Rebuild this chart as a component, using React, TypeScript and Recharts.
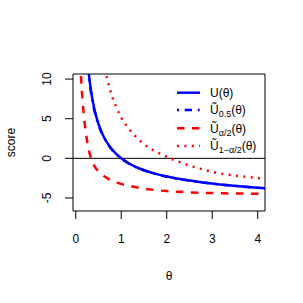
import {
  Legend,
  Line,
  LineChart,
  ReferenceArea,
  ReferenceLine,
  XAxis,
  YAxis,
} from "recharts";

const theta = [0.1, 0.12, 0.15, 0.2, 0.25, 0.3, 0.35, 0.4, 0.45, 0.5, 0.6, 0.7, 0.8, 0.9, 1.0, 1.2, 1.4, 1.6, 1.8, 2.0, 2.25, 2.5, 2.75, 3.0, 3.25, 3.5, 3.75, 4.0, 4.2];

const uScore = [null, null, null, null, 12.9, 10.05, 8.02, 6.49, 5.3, 4.35, 2.91, 1.88, 1.11, 0.5, 0.01, -0.74, -1.28, -1.69, -2.02, -2.29, -2.57, -2.8, -3.0, -3.17, -3.33, -3.46, -3.59, -3.7, -3.79];
const uMedian = [null, null, null, null, 12.6, 9.8, 7.8, 6.3, 5.15, 4.22, 2.82, 1.82, 1.07, 0.47, -0.02, -0.76, -1.3, -1.71, -2.04, -2.31, -2.59, -2.82, -3.02, -3.19, -3.35, -3.48, -3.61, -3.72, -3.81];
const uLower = [12.3, 9.9, 7.3, 4.3, 2.2, 0.75, -0.2, -0.85, -1.3, -1.65, -2.15, -2.52, -2.8, -3.02, -3.22, -3.5, -3.73, -3.9, -4.03, -4.13, -4.22, -4.29, -4.34, -4.38, -4.41, -4.43, -4.45, -4.47, -4.48];
const uUpper = [null, null, null, null, null, null, null, null, null, 15.9, 12.4, 9.8, 7.8, 6.35, 5.15, 3.5, 2.3, 1.38, 0.74, 0.2, -0.4, -0.9, -1.33, -1.7, -1.98, -2.18, -2.34, -2.47, -2.56];

const xTicks = [0, 1, 2, 3, 4];
const yTicks = [-5, 0, 5, 10];
const xDomain = [-0.06, 4.16];
const yDomain = [-6.64, 10.64];

const data = theta.map((t, i) => ({
  theta: t,
  u: uScore[i],
  u05: uMedian[i],
  lo: uLower[i],
  hi: uUpper[i],
}));

const FONT = "'Liberation Sans', Arial, Helvetica, sans-serif";

// legend rows: dash pattern + label pieces (base, subscript)
const series = [
  { key: "u", color: "#0000ff", dash: undefined, sub: null, tilde: false },
  { key: "u05", color: "#0000ff", dash: "2 5.7 7.3 5.7", sub: "0.5", tilde: true },
  { key: "lo", color: "#ff0000", dash: "7.5 7.5", sub: "α/2", tilde: true },
  { key: "hi", color: "#ff0000", dash: "2 5.4", sub: "1−α/2", tilde: true },
];

function XTick(props: any) {
  const { x, y, payload } = props;
  return (
    <text x={x} y={y + 22} textAnchor="middle" fontFamily={FONT} fontSize={12} fill="#000">
      {payload.value}
    </text>
  );
}

function YTick(props: any) {
  const { x, y, payload } = props;
  const bx = x - 12;
  return (
    <text
      x={bx}
      y={y}
      textAnchor="middle"
      transform={`rotate(-90, ${bx}, ${y})`}
      fontFamily={FONT}
      fontSize={12}
      fill="#000"
    >
      {payload.value}
    </text>
  );
}

function renderLegend() {
  const rows = [12.7, 30, 48.3, 66];
  return (
    <svg width={125} height={80} style={{ overflow: "visible" }}>
      {series.map((s, i) => (
        <g key={s.key}>
          <line
            x1={12}
            x2={35}
            y1={rows[i]}
            y2={rows[i]}
            stroke={s.color}
            strokeWidth={2.5}
            strokeDasharray={s.dash}
          />
          <text x={45} y={rows[i] + 4.3} fontFamily={FONT} fontSize={12} fill="#000">
            {s.tilde ? "Ũ" : "U"}
            {s.sub ? (
              <>
                <tspan fontSize={9} dy={3}>
                  {s.sub}
                </tspan>
                <tspan dy={-3}>(θ)</tspan>
              </>
            ) : (
              "(θ)"
            )}
          </text>
        </g>
      ))}
    </svg>
  );
}

export default function App() {
  return (
    <div style={{ position: "absolute", left: 0, top: 0, width: 303, height: 303, background: "#fff" }}>
      <LineChart width={303} height={303} data={data} margin={{ top: 74, right: 38, bottom: 62, left: 43 }}>
        <XAxis
          dataKey="theta"
          type="number"
          domain={xDomain}
          ticks={xTicks}
          interval={0}
          allowDataOverflow
          axisLine={false}
          tickLine={{ stroke: "#000" }}
          tickSize={8}
          height={30}
          tick={XTick}
          label={{
            content: (p: any) => {
              const vb = p.viewBox || { x: 73, y: 211, width: 192 };
              return (
                <text
                  x={vb.x + vb.width / 2}
                  y={vb.y + 68.5}
                  textAnchor="middle"
                  fontFamily={FONT}
                  fontSize={12}
                  fill="#000"
                >
                  θ
                </text>
              );
            },
          }}
        />
        <YAxis
          type="number"
          domain={yDomain}
          ticks={yTicks}
          interval={0}
          allowDataOverflow
          axisLine={false}
          tickLine={{ stroke: "#000" }}
          tickSize={8}
          width={30}
          tick={YTick}
          label={{
            content: (p: any) => {
              const vb = p.viewBox || { x: 43, y: 74, height: 137 };
              const cx = 15;
              const cy = vb.y + vb.height / 2;
              return (
                <text
                  x={cx}
                  y={cy}
                  textAnchor="middle"
                  transform={`rotate(-90, ${cx}, ${cy})`}
                  fontFamily={FONT}
                  fontSize={12}
                  fill="#000"
                >
                  score
                </text>
              );
            },
          }}
        />
        <ReferenceArea
          x1={xDomain[0]}
          x2={xDomain[1]}
          y1={yDomain[0]}
          y2={yDomain[1]}
          fill="none"
          fillOpacity={0}
          stroke="#000"
          strokeWidth={1}
          ifOverflow="visible"
        />
        <ReferenceLine y={0} stroke="#000" strokeWidth={1} />
        <Line type="monotone" dataKey="hi" stroke="#ff0000" strokeWidth={2.5} strokeDasharray="2 5.4" dot={false} isAnimationActive={false} />
        <Line type="monotone" dataKey="lo" stroke="#ff0000" strokeWidth={2.5} strokeDasharray="7.5 7.5" dot={false} isAnimationActive={false} />
        <Line type="monotone" dataKey="u" stroke="#0000ff" strokeWidth={2.5} dot={false} isAnimationActive={false} />
        <Line type="monotone" dataKey="u05" stroke="#0000ff" strokeWidth={2.5} strokeDasharray="2 5.7 7.3 5.7" dot={false} isAnimationActive={false} />
        <Legend
          layout="vertical"
          align="center"
          verticalAlign="middle"
          wrapperStyle={{ left: 165, top: 80, width: 125, height: 80 }}
          content={renderLegend}
        />
      </LineChart>
    </div>
  );
}
